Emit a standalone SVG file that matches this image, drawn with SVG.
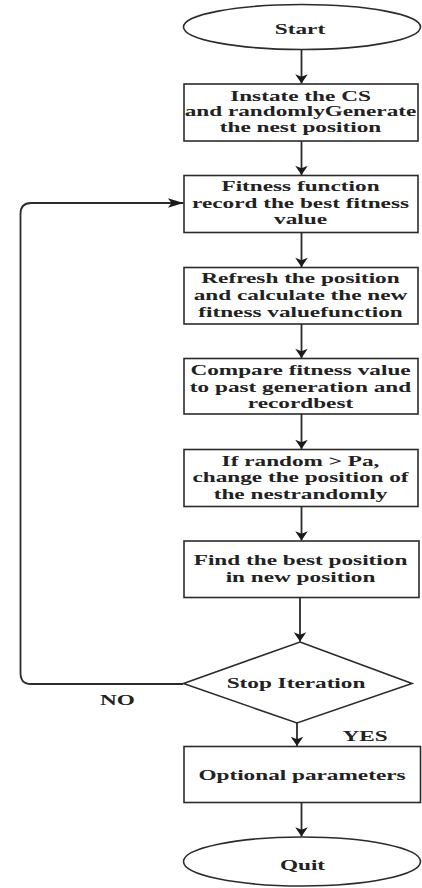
<svg xmlns="http://www.w3.org/2000/svg" width="422" height="888" viewBox="0 0 422 888">
<style>
.shape{fill:#fff;stroke:#2b2b2b;stroke-width:1.6}
.conn{fill:none;stroke:#2b2b2b;stroke-width:1.8}
.t{font-family:"Liberation Serif","Times New Roman",serif;font-weight:bold;font-size:15px;fill:#222;text-anchor:middle}
</style>
<defs>
<marker id="ah" markerUnits="userSpaceOnUse" markerWidth="16" markerHeight="16" refX="8" refY="0" viewBox="-1 -7 10 14" orient="auto">
<path d="M0,-5.5 L8,0 L0,5.5 L2,0 Z" fill="#1a1a1a"/>
</marker>
<marker id="ahH" markerUnits="userSpaceOnUse" markerWidth="18" markerHeight="12" refX="13" refY="0" viewBox="-1 -5 15 10" orient="auto">
<path d="M0,-4 L13,0 L0,4 L3,0 Z" fill="#1a1a1a"/>
</marker>
</defs>
<rect width="422" height="888" fill="#fff"/>
<g id="connectors">
<line class="conn" x1="301.5" y1="49.5" x2="301.5" y2="83.5" marker-end="url(#ah)"/>
<line class="conn" x1="301.5" y1="141" x2="301.5" y2="175" marker-end="url(#ah)"/>
<line class="conn" x1="301.5" y1="232.5" x2="301.5" y2="267" marker-end="url(#ah)"/>
<line class="conn" x1="301.5" y1="324" x2="301.5" y2="358" marker-end="url(#ah)"/>
<line class="conn" x1="301.5" y1="414" x2="301.5" y2="449" marker-end="url(#ah)"/>
<line class="conn" x1="301.5" y1="506.5" x2="301.5" y2="540.5" marker-end="url(#ah)"/>
<line class="conn" x1="300" y1="597.5" x2="300" y2="641.5" marker-end="url(#ah)"/>
<line class="conn" x1="297" y1="723" x2="297" y2="746" marker-end="url(#ah)"/>
<line class="conn" x1="301.5" y1="802.5" x2="301.5" y2="836.5" marker-end="url(#ah)"/>
<path class="conn" d="M183,684 H31 Q20.5,684 20.5,673 V214 Q20.5,203 31,203 H183.5" marker-end="url(#ahH)"/>
<text class="t" transform="translate(117.5,705) scale(1.55,1)">NO</text>
<text class="t" transform="translate(365,740.5) scale(1.55,1)">YES</text>
</g>
<g id="start">
<ellipse class="shape" cx="302" cy="27" rx="118.5" ry="22.5"/>
<text class="t" transform="translate(300,33.5) scale(1.55,1)">Start</text>
</g>
<g id="instate">
<rect class="shape" x="184" y="84" width="234" height="57"/>
<text class="t" transform="translate(300.5,101) scale(1.55,1)">Instate the CS</text>
<text class="t" transform="translate(300.5,116.3) scale(1.55,1)">and randomlyGenerate</text>
<text class="t" transform="translate(300.5,131.6) scale(1.55,1)">the nest position</text>
</g>
<g id="fitness">
<rect class="shape" x="184" y="175.5" width="234" height="57"/>
<text class="t" transform="translate(300.5,191) scale(1.55,1)">Fitness function</text>
<text class="t" transform="translate(300.5,207.6) scale(1.55,1)">record the best fitness</text>
<text class="t" transform="translate(300.5,224.2) scale(1.55,1)">value</text>
</g>
<g id="refresh">
<rect class="shape" x="184" y="267.5" width="234" height="56.5"/>
<text class="t" transform="translate(300.5,283.3) scale(1.55,1)">Refresh the position</text>
<text class="t" transform="translate(300.5,300) scale(1.55,1)">and calculate the new</text>
<text class="t" transform="translate(300.5,316.7) scale(1.55,1)">fitness valuefunction</text>
</g>
<g id="compare">
<rect class="shape" x="184" y="358.5" width="234" height="55.5"/>
<text class="t" transform="translate(300.5,375) scale(1.55,1)">Compare fitness value</text>
<text class="t" transform="translate(300.5,391.7) scale(1.55,1)">to past generation and</text>
<text class="t" transform="translate(300.5,408.3) scale(1.55,1)">recordbest</text>
</g>
<g id="random">
<rect class="shape" x="184" y="449.5" width="234" height="57"/>
<text class="t" transform="translate(300.5,466) scale(1.55,1)">If random &gt; Pa,</text>
<text class="t" transform="translate(300.5,482.3) scale(1.55,1)">change the position of</text>
<text class="t" transform="translate(300.5,498.6) scale(1.55,1)">the nestrandomly</text>
</g>
<g id="findbest">
<rect class="shape" x="184" y="541" width="235" height="56.5"/>
<text class="t" transform="translate(300.5,565) scale(1.55,1)">Find the best position</text>
<text class="t" transform="translate(300.5,581.7) scale(1.55,1)">in new position</text>
</g>
<g id="stop">
<polygon class="shape" points="300,642 412,683.5 297,723 183.5,683.5"/>
<text class="t" transform="translate(296,688) scale(1.55,1)">Stop Iteration</text>
</g>
<g id="optional">
<rect class="shape" x="184" y="746.5" width="236.5" height="56"/>
<text class="t" transform="translate(302,780) scale(1.55,1)">Optional parameters</text>
</g>
<g id="quit">
<ellipse class="shape" cx="302" cy="861.5" rx="118.5" ry="24.5"/>
<text class="t" transform="translate(302.5,870) scale(1.55,1)">Quit</text>
</g>
</svg>
